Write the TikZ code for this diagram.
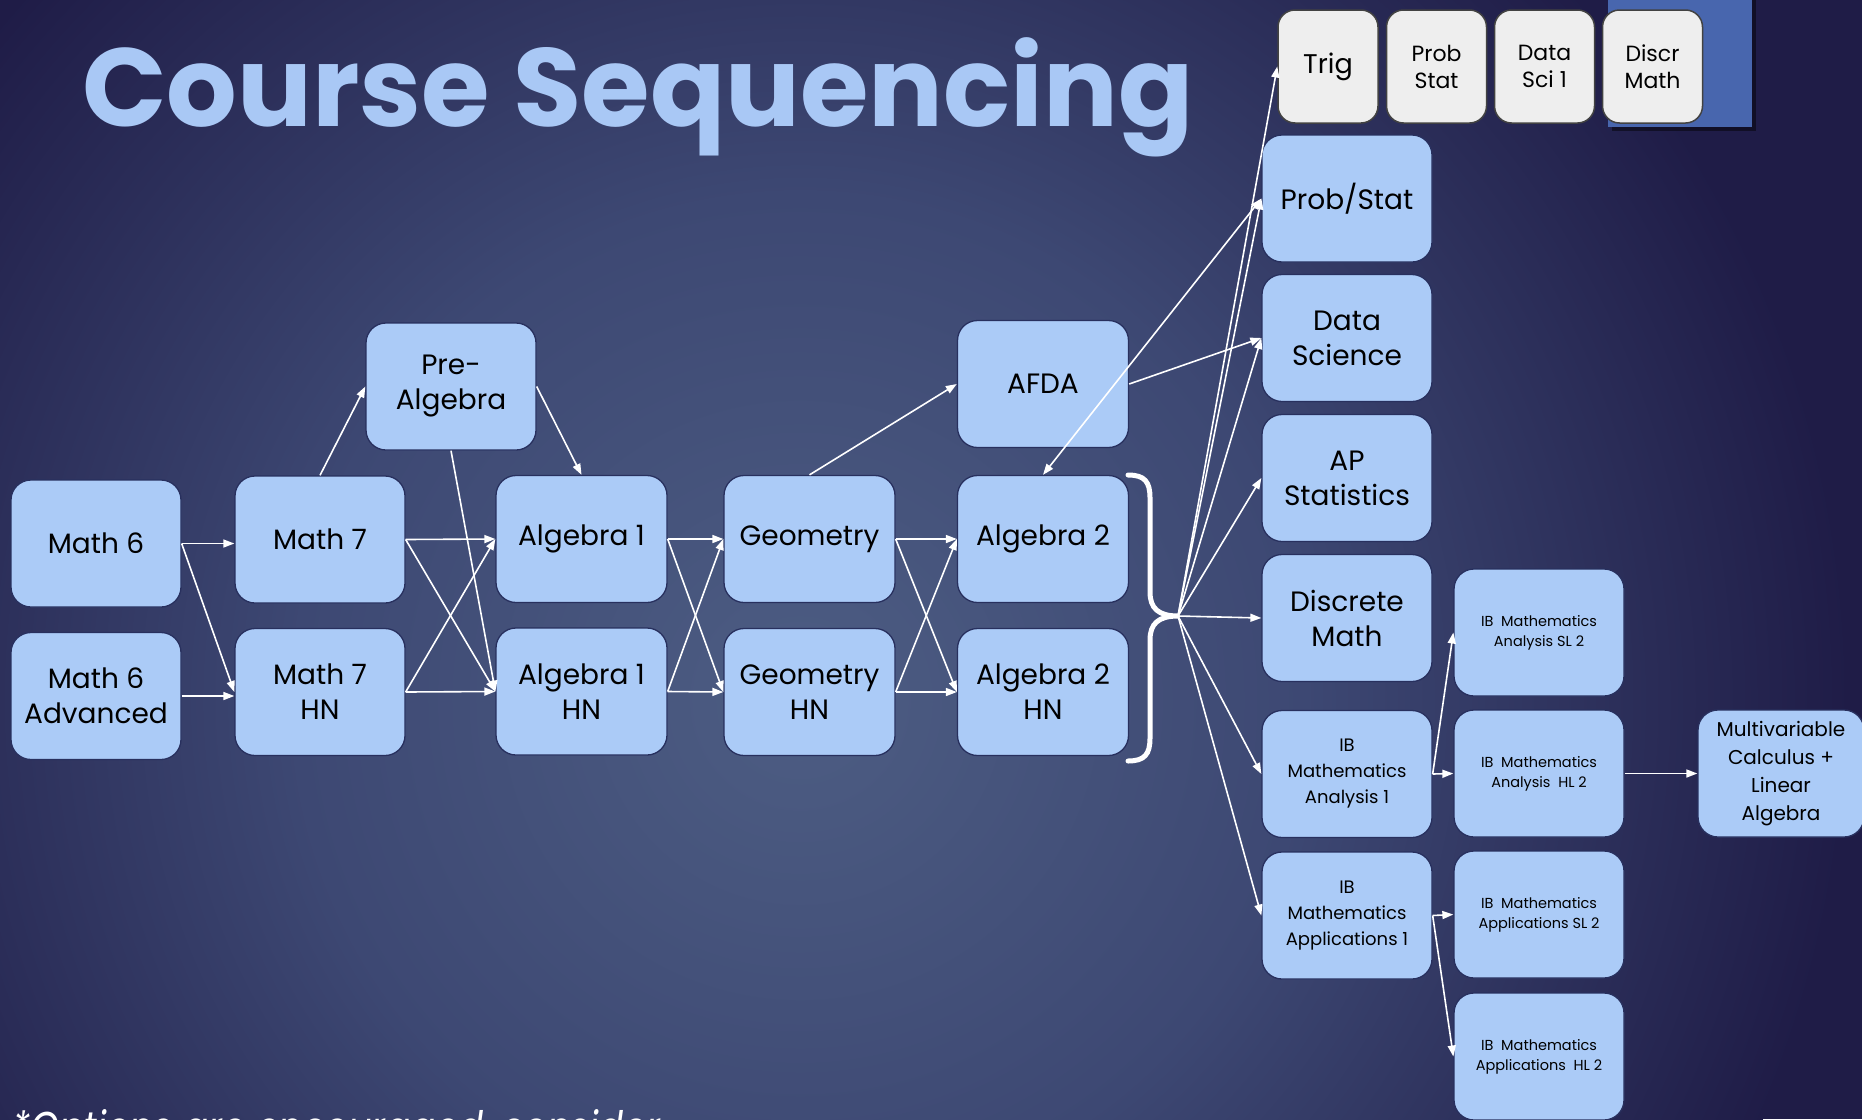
\documentclass[tikz,border=0pt]{standalone}
\usepackage{fontspec}
\usepackage{graphicx}
\setmainfont{Poppins}
\usetikzlibrary{arrows.meta}

\definecolor{bgin}{HTML}{4D5D83}
\definecolor{bgmid}{HTML}{3D4873}
\definecolor{bgout}{HTML}{1F1C47}
\definecolor{boxfill}{HTML}{ABCBF7}
\definecolor{boxline}{HTML}{28305E}
\definecolor{titleblue}{HTML}{A9C8F5}
\definecolor{chipfill}{HTML}{EEEEEE}
\definecolor{chipline}{HTML}{424242}
\definecolor{tabblue}{HTML}{4866AE}

\pgfdeclareradialshading{slidebg}{\pgfpoint{0bp}{0bp}}{color(0bp)=(bgin); color(12bp)=(bgmid); color(25bp)=(bgout); color(50bp)=(bgout)}

\begin{document}
\begin{tikzpicture}[x=1pt,y=-1pt,
  course/.style={draw=boxline, line width=1.3pt, fill=boxfill, rounded corners=20pt,
    minimum width=171pt, minimum height=127pt, inner sep=0pt, align=center, text=black,
    font=\fontsize{28}{35}\selectfont},
  ibbox/.style={course, font=\fontsize{18}{26}\selectfont},
  smallbox/.style={course, font=\fontsize{14.5}{20}\selectfont},
  chip/.style={draw=chipline, line width=1.5pt, fill=chipfill, rounded corners=17pt,
    minimum width=100pt, minimum height=113pt, inner sep=0pt, align=center, text=black,
    font=\fontsize{22}{27}\selectfont},
  arr/.style={white, line width=1.6pt, -{Triangle[length=11pt,width=8pt]}},
  darr/.style={white, line width=1.6pt, {Triangle[length=11pt,width=8pt]}-{Triangle[length=11pt,width=8pt]}}
]
\useasboundingbox (0,0) rectangle (1862,1119);
\begin{scope}
\clip (0,0) rectangle (1862,1119);

% slide background
\fill[bgout] (0,0) rectangle (1862,1119);
\shade[shading=slidebg] (800,700) circle (1050pt);

% title
\node[anchor=base west, inner sep=0pt, text=titleblue,
  font=\fontsize{111}{111}\selectfont\bfseries] (title) at (82,126) {Course Sequencing};

% footnote, running off the bottom edge
\node[anchor=base west, inner sep=0pt, text=white,
  font=\fontsize{46}{46}\selectfont\itshape] (note) at (12,1144)
  {\scalebox{0.8}[1]{*Options are encouraged, consider}};

% tab behind the elective chips
\fill[black, opacity=0.45] (1612,0) rectangle (1756,131);
\fill[tabblue] (1608,0) rectangle (1752,127);

% elective chips
\node[chip, font=\fontsize{27}{32}\selectfont] (trig) at (1328,66.5) {Trig};
\node[chip] (pstat) at (1436.5,66.5) {Prob\\Stat};
\node[chip] (dsci) at (1544.5,66.5) {Data\\Sci 1};
\node[chip] (discr) at (1652.5,66.5) {Discr\\Math};

% middle school
\node[course, minimum width=170pt] (m6) at (96,543.5) {Math 6};
\node[course, minimum width=170pt] (m6a) at (96,696) {Math 6\\Advanced};
\node[course, minimum width=170pt] (m7) at (320,539.5) {Math 7};
\node[course, minimum width=170pt] (m7h) at (320,692) {Math 7\\HN};
\node[course, minimum width=170pt] (pre) at (451,386.5) {Pre-\\Algebra};

% high school core
\node[course] (a1) at (581.5,539) {Algebra 1};
\node[course] (a1h) at (581.5,691.5) {Algebra 1\\HN};
\node[course] (geo) at (809.5,539) {Geometry};
\node[course] (geoh) at (809.5,692) {Geometry\\HN};
\node[course] (afda) at (1043,384) {AFDA};
\node[course] (a2) at (1043,539) {Algebra 2};
\node[course] (a2h) at (1043,692) {Algebra 2\\HN};

% options after Algebra 2
\node[course, minimum width=170pt] (ps) at (1347,198.5) {Prob/Stat};
\node[course, minimum width=170pt] (ds) at (1347,338) {Data\\Science};
\node[course, minimum width=170pt] (ap) at (1347,478) {AP\\Statistics};
\node[course, minimum width=170pt] (dm) at (1347,618) {Discrete\\Math};
\node[ibbox, minimum width=170pt] (ib1) at (1347,774) {IB\\Mathematics\\Analysis 1};
\node[ibbox, minimum width=170pt] (iba1) at (1347,915.5) {IB\\Mathematics\\Applications 1};

% IB year two
\node[smallbox, minimum width=170pt] (sl2) at (1539,632.5) {IB~~Mathematics\\Analysis SL 2};
\node[smallbox, minimum width=170pt] (hl2) at (1539,773.5) {IB~~Mathematics\\Analysis~~HL 2};
\node[smallbox, minimum width=170pt] (asl2) at (1539,914.5) {IB~~Mathematics\\Applications SL 2};
\node[smallbox, minimum width=170pt] (ahl2) at (1539,1056.5) {IB~~Mathematics\\Applications~~HL 2};
\node[course, minimum width=166pt, font=\fontsize{20}{28}\selectfont] (mv) at (1781,773.5) {Multivariable\\Calculus +\\Linear\\Algebra};

% brace gathering Algebra 2 and Algebra 2 HN
\coordinate (tip) at (1178,616);
\draw[white, line width=5pt, line cap=round]
  (1128,475) .. controls (1145,475) and (1150,482) .. (1150,498) -- (1150,592)
  .. controls (1150,608) and (1158,616) .. (tip)
  .. controls (1158,616) and (1150,624) .. (1150,640) -- (1150,738)
  .. controls (1150,754) and (1145,761) .. (1128,761);

% middle school connectors
\draw[arr] (m6.east) -- (m7.west |- m6.east);
\draw[arr] (m6.east) -- (m7h.west);
\draw[arr] (m6a.east) -- (m7h.west |- m6a.east);
\draw[arr] (m7.north) -- (pre.west);
\draw[arr] (pre.east) -- (a1.north);
\draw[arr] (pre.south) -- (a1h.west);
\draw[arr] (m7.east) -- (a1.west);
\draw[arr] (m7.east) -- (a1h.west);
\draw[arr] (m7h.east) -- (a1.west);
\draw[arr] (m7h.east) -- (a1h.west);

% high school connectors
\draw[arr] (a1.east) -- (geo.west);
\draw[arr] (a1.east) -- (geoh.west);
\draw[arr] (a1h.east) -- (geo.west);
\draw[arr] (a1h.east) -- (geoh.west);
\draw[arr] (geo.north) -- (afda.west);
\draw[arr] (geo.east) -- (a2.west);
\draw[arr] (geo.east) -- (a2h.west);
\draw[arr] (geoh.east) -- (a2.west);
\draw[arr] (geoh.east) -- (a2h.west);
\draw[arr] (afda.east) -- (ds.west);
\draw[darr] (ps.west) -- (a2.north);

% from the brace to the options
\draw[arr] (tip) -- (trig.west);
\draw[arr] (tip) -- (ps.west);
\draw[arr] (tip) -- (ds.west);
\draw[arr] (tip) -- (ap.west);
\draw[arr] (tip) -- (dm.west);
\draw[arr] (tip) -- (ib1.west);
\draw[arr] (tip) -- (iba1.west);

% IB pathways
\draw[arr] (ib1.east) -- (sl2.west);
\draw[arr] (ib1.east) -- (hl2.west);
\draw[arr] (iba1.east) -- (asl2.west);
\draw[arr] (iba1.east) -- (ahl2.west);
\draw[arr] (hl2.east) -- (mv.west);
\end{scope}
\end{tikzpicture}
\end{document}
